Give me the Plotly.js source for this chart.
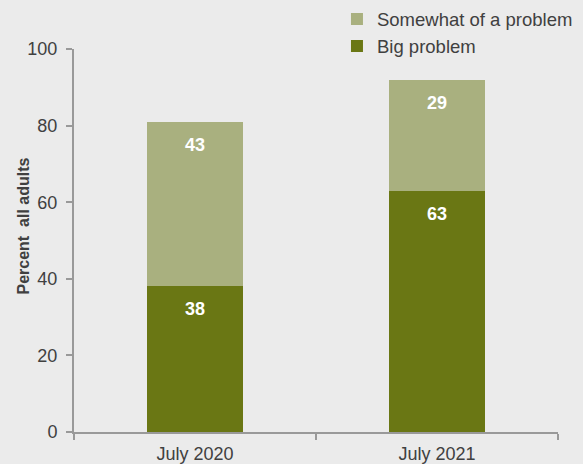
<!DOCTYPE html>
<html><head><meta charset="utf-8">
<script src="https://cdn.plot.ly/plotly-3.0.1.min.js"></script>
<style>html,body{margin:0;padding:0;background:#ebebeb;}</style>
</head><body><div id="chart" style="width:583px;height:464px;"></div>
<script>
var categories = ["July 2020", "July 2021"];
var bigProblem = [38, 63];
var somewhatProblem = [43, 29];
var yTicks = [0, 20, 40, 60, 80, 100];
var yTitle = "Percent  all adults";

var dark = "#6a7714", light = "#a9b07f", txt = "#404040";
var fam = "Liberation Sans, Arial, sans-serif";
var traces = [
  {type: "bar", name: "Big problem", x: categories, y: bigProblem, marker: {color: dark}, width: 0.4, hoverinfo: "none"},
  {type: "bar", name: "Somewhat of a problem", x: categories, y: somewhatProblem, marker: {color: light}, width: 0.4, hoverinfo: "none"}
];
var annotations = [];
categories.forEach(function(c, i) {
  annotations.push({x: c, y: bigProblem[i], text: "<b>" + bigProblem[i] + "</b>", showarrow: false, yanchor: "middle", yshift: -23, font: {color: "#ffffff", size: 18, family: fam}});
  annotations.push({x: c, y: bigProblem[i] + somewhatProblem[i], text: "<b>" + somewhatProblem[i] + "</b>", showarrow: false, yanchor: "middle", yshift: -23, font: {color: "#ffffff", size: 18, family: fam}});
});
annotations.push({xref: "paper", yref: "paper", x: 0, y: 0.5, xanchor: "center", yanchor: "middle", xshift: -51, yshift: 14, textangle: -90, showarrow: false, text: "<b>" + yTitle + "</b>", font: {size: 16, color: txt, family: fam}});
var layout = {
  width: 583, height: 464,
  paper_bgcolor: "#ebebeb", plot_bgcolor: "#ebebeb",
  font: {family: fam, color: txt, size: 18},
  margin: {l: 74, r: 25, t: 49, b: 32, pad: 0, autoexpand: false},
  barmode: "stack",
  showlegend: true,
  legend: {xref: "container", yref: "container", x: 0.578, xanchor: "left", y: 0.999, yanchor: "top", bgcolor: "rgba(0,0,0,0)", font: {size: 18.5, color: txt}, traceorder: "reversed", tracegroupgap: 0},
  xaxis: {showline: true, linecolor: "#999999", linewidth: 2, ticks: "outside", tickson: "boundaries", ticklen: 6, tickcolor: "#999999", tickwidth: 2, showgrid: false, zeroline: false, tickfont: {size: 18, color: txt}, ticklabelstandoff: 4, fixedrange: true},
  yaxis: {range: [0, 100], tickvals: yTicks, showline: true, linecolor: "#999999", linewidth: 2, ticks: "outside", ticklen: 6, tickcolor: "#999999", tickwidth: 2, showgrid: false, zeroline: false, tickfont: {size: 18, color: txt}, ticklabelstandoff: 5, fixedrange: true},
  annotations: annotations
};
Plotly.newPlot("chart", traces, layout, {displayModeBar: false, staticPlot: true});
</script></body></html>
